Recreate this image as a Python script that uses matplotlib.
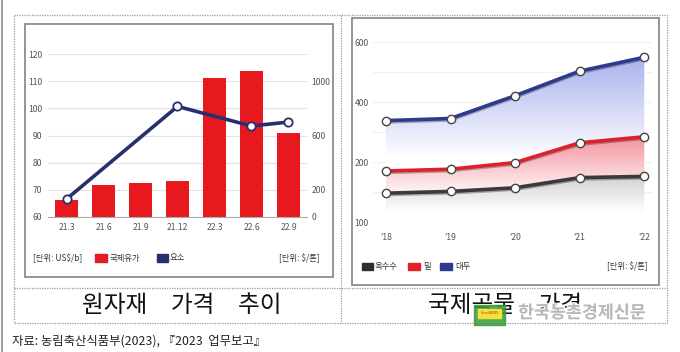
import numpy as np
import matplotlib.pyplot as plt
from matplotlib.patches import Rectangle
from matplotlib.colors import to_rgb
import matplotlib.patheffects as pe

plt.rcParams['font.family'] = ['Noto Sans CJK KR', 'DejaVu Sans']

# left chart: oil price (bars, left axis) and urea (line, right axis)
periods = ['21.3', '21.6', '21.9', '21.12', '22.3', '22.6', '22.9']
oil = [66.4, 71.8, 72.6, 73.1, 111.1, 113.8, 91.0]
urea = [132, np.nan, np.nan, 814, np.nan, 670, 699]

# right chart: grain prices ($/ton)
years = ["'18", "'19", "'20", "'21", "'22"]
corn = [148, 151, 157, 174, 176]
wheat = [185, 188, 199, 264, 284]
soy = [338, 345, 421, 503, 549]

W, H = 680, 352
fig = plt.figure(figsize=(6.8, 3.52), dpi=100)


def rect(x0, y0, x1, y1):
    # pixel box (top-left origin) -> figure fraction
    return [x0 / W, 1 - y1 / H, (x1 - x0) / W, (y1 - y0) / H]


bg = fig.add_axes([0, 0, 1, 1])
bg.set_xlim(0, W)
bg.set_ylim(H, 0)
bg.axis('off')

# page border and dotted table
bg.plot([2, 2], [0, H], color='#8a8a8a', lw=1.2)
dot = dict(color='#9a9a9a', lw=0.9, ls=(0, (1, 1)))
bg.plot([14, 667, 667, 14, 14], [15, 15, 323, 323, 15], **dot)
bg.plot([14, 667], [288, 288], **dot)
bg.plot([341, 341], [15, 323], **dot)

# chart boxes
bg.add_patch(Rectangle((25, 24), 308, 253, fill=False, ec='#8c8c8c', lw=1.3))
bg.add_patch(Rectangle((352, 18), 307, 267, fill=False, ec='#8c8c8c', lw=1.3))

# cell titles
bg.text(182, 305, '원자재\u3000가격\u3000추이', ha='center', va='center', fontsize=17, color='#111')
bg.text(505, 305, '국제곡물\u3000가격', ha='center', va='center', fontsize=17, color='#111')

# source
bg.text(12, 341, '자료: 농림축산식품부(2023), 『2023  업무보고』', ha='left', va='center',
        fontsize=8.9, color='#222')

# left legend
lg = dict(fontsize=6, color='#333', va='center')
bg.text(33, 258, '[단위: US$/b]', ha='left', **lg)
bg.add_patch(Rectangle((95, 254), 12, 8, color='#e31b23'))
bg.text(110, 258, '국제유가', ha='left', **lg)
bg.add_patch(Rectangle((157, 254), 11, 8, color='#27306e'))
bg.text(170, 258, '요소', ha='left', **lg)
bg.text(320, 258, '[단위: $/톤]', ha='right', **lg)

# right legend
bg.add_patch(Rectangle((362, 263), 11, 7, color='#2f2f2f'))
bg.text(375, 266, '옥수수', ha='left', **lg)
bg.add_patch(Rectangle((408, 263), 12, 7, color='#e01f2a'))
bg.text(423, 266, '밀', ha='left', **lg)
bg.add_patch(Rectangle((440, 263), 12, 7, color='#2e3a8f'))
bg.text(455, 266, '대두', ha='left', **lg)
bg.text(648, 266, '[단위: $/톤]', ha='right', **lg)

# ---- left chart ----
ax1 = fig.add_axes(rect(48, 54, 307, 217))
ax1.patch.set_alpha(0)
x = np.arange(len(periods))
ax1.bar(x, oil, width=0.62, color='#e8181f', zorder=2)
ax1.set_xlim(-0.5, 6.5)
ax1.set_ylim(60, 120)
ax1.set_yticks(range(60, 121, 10))
ax1.set_xticks(x, periods)
ax1.grid(axis='y', color='#e2e2e2', lw=0.8)
ax1.set_axisbelow(True)
for s in ax1.spines.values():
    s.set_visible(False)
ax1.spines['bottom'].set_visible(True)
ax1.spines['bottom'].set_color('#aaaaaa')
ax1.tick_params(length=0, labelsize=6.2, colors='#555', pad=4)

ax1b = ax1.twinx()
u = np.array(urea)
m = ~np.isnan(u)
ax1b.plot(x[m], u[m], color='#27306e', lw=2.6, marker='o', ms=6, mfc='white',
          mec='#27306e', mew=1.3, zorder=3)
ax1b.set_ylim(0, 1200)
ax1b.set_yticks([0, 200, 600, 1000])
for s in ax1b.spines.values():
    s.set_visible(False)
ax1b.tick_params(length=0, labelsize=6.2, colors='#555', pad=3)

# ---- right chart ----
kv = [100, 200, 400, 600]
kp = [0, 1, 2, 3]


def fwd(v):
    return np.interp(v, kv, kp)


def inv(p):
    return np.interp(p, kp, kv)


ax2 = fig.add_axes(rect(373, 42, 652, 222))
ax2.patch.set_alpha(0)
ax2.set_yscale('function', functions=(fwd, inv))
xs = np.arange(len(years))


def grad_fill(ax, y, color, top, bottom, amax, z):
    poly = ax.fill_between(xs, y, 100, color='white', lw=0, zorder=z)
    r, g, b = to_rgb(color)
    t = np.linspace(0, 1, 256)
    img = np.zeros((256, 1, 4))
    img[:, 0, 0], img[:, 0, 1], img[:, 0, 2] = r, g, b
    img[:, 0, 3] = amax * np.clip((t - bottom) / (top - bottom), 0, 1)
    im = ax.imshow(img, extent=[0, 1, 0, 1], transform=ax.transAxes, origin='lower',
                   aspect='auto', zorder=z + 0.1)
    im.set_clip_path(poly.get_paths()[0], ax.transData)


grad_fill(ax2, soy, '#a3acec', 0.92, 0.35, 0.95, 1)
grad_fill(ax2, wheat, '#f2838e', 0.5, 0.13, 0.95, 2)
grad_fill(ax2, corn, '#c6c6c6', 0.28, 0.05, 0.9, 3)

shadow = [pe.SimpleLineShadow(offset=(0, -1), shadow_color='#222', alpha=0.35), pe.Normal()]
for vals, col in [(corn, '#3a3a3a'), (wheat, '#e01f2a'), (soy, '#2e3a8f')]:
    ax2.plot(xs, vals, color=col, lw=2.6, zorder=5, path_effects=shadow)
    ax2.plot(xs, vals, ls='none', marker='o', ms=6, mfc='white', mec='#444', mew=1.0, zorder=6)

ax2.set_xlim(-0.2, 4.12)
ax2.set_ylim(100, 600)
ax2.set_yticks([100, 150, 200, 300, 400, 500, 600])
ax2.set_yticklabels(['100', '', '200', '', '400', '', '600'])
ax2.set_xticks(xs, years)
ax2.grid(axis='y', color='#f0f0f0', lw=0.8)
ax2.set_axisbelow(True)
for s in ax2.spines.values():
    s.set_visible(False)
ax2.tick_params(length=0, labelsize=6.2, colors='#555', pad=3)
ax2.tick_params(axis='x', pad=8)

# watermark
bg.add_patch(Rectangle((474, 305), 31, 20, color='#3a9a3a', alpha=0.85, zorder=5))
bg.add_patch(Rectangle((478, 309), 23, 9, color='#f2e23a', zorder=6))
bg.text(489.5, 313.5, 'ChonNEWS', fontsize=2.5, color='#d0202a', ha='center', va='center',
        style='italic', zorder=7)
bg.text(582, 313, '한국농촌경제신문', ha='center', va='center', fontsize=12.5, fontweight='bold',
        color='#b0b0b0', alpha=0.9, zorder=8,
        path_effects=[pe.withStroke(linewidth=2, foreground='white')])

fig.savefig('out.png', dpi=100)
